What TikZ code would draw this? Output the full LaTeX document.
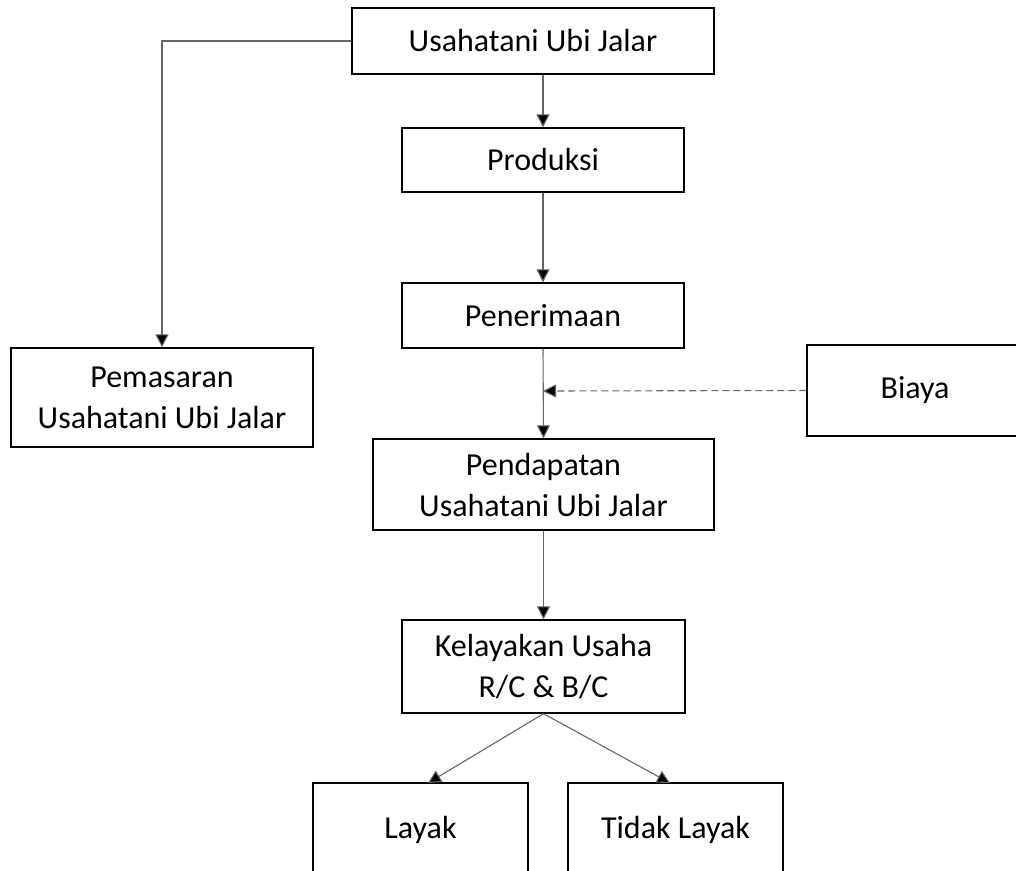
\documentclass[tikz,border=0pt]{standalone}
\usepackage{fontspec}
\setmainfont{Carlito}
\usetikzlibrary{arrows.meta}
\tikzset{
  txt/.style={font=\fontsize{32}{41}\selectfont},
  box/.style={draw=black, line width=1.4pt, align=center, inner sep=0pt, txt},
  conn/.style={draw=black!60, line width=1.1pt, -{Triangle[length=13pt,width=13pt,fill=black]}},
  dconn/.style={conn, dash pattern=on 7pt off 4pt}
}
\begin{document}
\begin{tikzpicture}[x=1pt,y=-1pt]
\useasboundingbox (0,0) rectangle (1016,870);
\clip (0,0) rectangle (1016,870);
\node[box, minimum width=362pt, minimum height=66pt] (top) at (533,41) {Usahatani Ubi Jalar};
\node[box, minimum width=282pt, minimum height=64pt] (prod) at (543,160) {Produksi};
\node[box, minimum width=282pt, minimum height=65pt] (pen) at (543,315.5) {Penerimaan};
\node[box, minimum width=341pt, minimum height=91pt] (pend) at (543.5,484.5) {Pendapatan\\Usahatani Ubi Jalar};
\node[box, minimum width=283pt, minimum height=93pt] (kel) at (543.5,666.5) {Kelayakan Usaha\\R/C \& B/C};
\node[box, minimum width=302pt, minimum height=99pt] (pem) at (162,397.5) {Pemasaran\\Usahatani Ubi Jalar};
\node[box, minimum width=216pt, minimum height=91pt] (biaya) at (915,390.5) {Biaya};
\node[box, minimum width=215pt, minimum height=110pt] (layak) at (420.5,838) {};
\node[txt] (layakt) at (420.5,830) {Layak};
\node[box, minimum width=215pt, minimum height=110pt] (tidak) at (675.5,838) {};
\node[txt] (tidakt) at (675.5,830) {Tidak Layak};
\coordinate (topout) at (top.south -| prod.north);
\coordinate (mid) at (543,391);
\coordinate (lin) at (428,783);
\coordinate (tin) at (670,783);
\draw[conn] (top.west) -| (pem.north);
\draw[conn] (topout) -- (prod.north);
\draw[conn] (prod.south) -- (pen.north);
\draw[conn] (pen.south) -- (pend.north);
\draw[dconn] (biaya.west) -- (mid);
\draw[conn] (pend.south) -- (kel.north);
\draw[conn] (kel.south) -- (lin);
\draw[conn] (kel.south) -- (tin);
\end{tikzpicture}
\end{document}
